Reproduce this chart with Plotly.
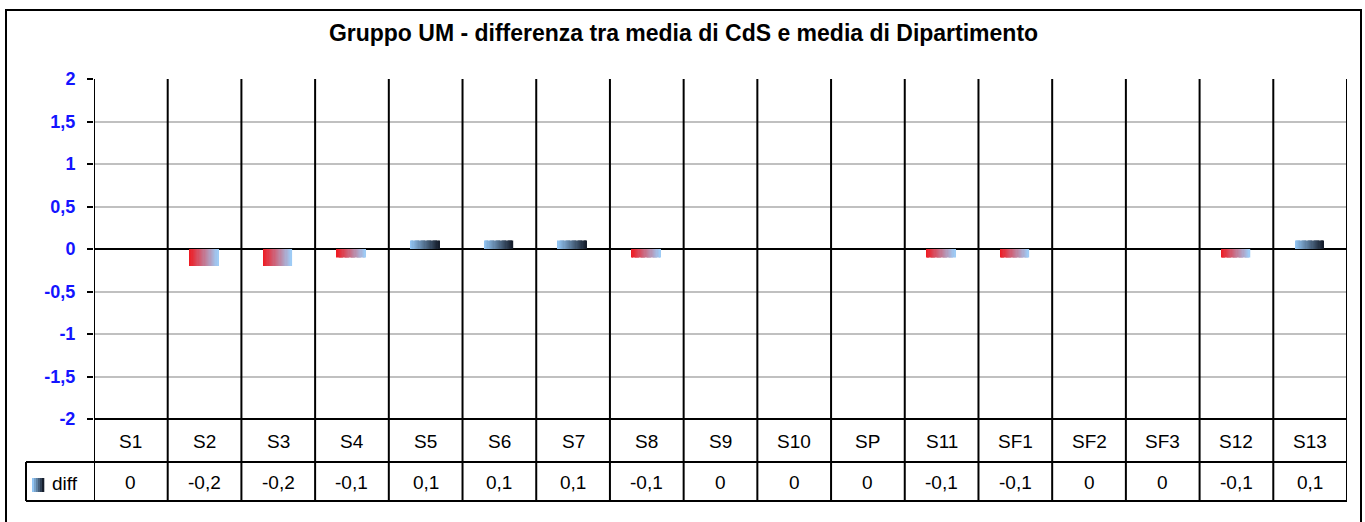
import plotly.graph_objects as go

categories = ["S1", "S2", "S3", "S4", "S5", "S6", "S7", "S8", "S9", "S10",
              "SP", "S11", "SF1", "SF2", "SF3", "S12", "S13"]
diff_values = [0, -0.2, -0.2, -0.1, 0.1, 0.1, 0.1, -0.1, 0, 0,
               0, -0.1, -0.1, 0, 0, -0.1, 0.1]
y_tick_values = [-2, -1.5, -1, -0.5, 0, 0.5, 1, 1.5, 2]
y_tick_labels = ["-2", "-1,5", "-1", "-0,5", "0", "0,5", "1", "1,5", "2"]
series_name = "diff"
title_text = "Gruppo UM - differenza tra media di CdS e media di Dipartimento"

# geometry (pixels)
W, H = 1365, 522
PL, PR, PT, PB = 94, 1347, 79, 419
pw, ph = PR - PL, PB - PT


def px_x(px):
    return (px - PL) / pw


def px_y(py):
    return (PB - py) / ph


def lerp(c1, c2, t):
    return "rgb(%d,%d,%d)" % tuple(round(a + (b - a) * t) for a, b in zip(c1, c2))


NEG_A, NEG_B = (238, 28, 36), (158, 203, 245)
POS_A, POS_B = (146, 196, 242), (22, 30, 44)

fig = go.Figure()

N = 24
bar_w = 0.39
sw = bar_w / N
for i in range(N):
    t = i / (N - 1)
    colors = [lerp(NEG_A, NEG_B, t) if v < 0 else lerp(POS_A, POS_B, t) for v in diff_values]
    fig.add_trace(go.Bar(
        x=categories, y=diff_values,
        width=sw * 1.15, offset=-bar_w / 2 + i * sw - 0.01,
        marker=dict(color=colors, line=dict(width=0)),
        showlegend=False, hoverinfo="skip",
    ))

shapes = []
line_black = dict(color="black", width=2)
y_row1 = px_y(462)
y_row2 = px_y(501)
for k in range(len(categories) + 1):
    shapes.append(dict(type="line", xref="x", yref="paper",
                       x0=k - 0.5, x1=k - 0.5, y0=y_row2, y1=1, line=line_black))
shapes.append(dict(type="line", xref="paper", yref="paper", x0=0, x1=1, y0=0, y1=0, line=line_black))
for yy in (y_row1, y_row2):
    shapes.append(dict(type="line", xref="paper", yref="paper", x0=px_x(26), x1=1,
                       y0=yy, y1=yy, line=line_black))
shapes.append(dict(type="line", xref="paper", yref="paper", x0=px_x(26), x1=px_x(26),
                   y0=y_row2, y1=y_row1, line=line_black))
SN = 6
for i in range(SN):
    x0 = 32 + i * 12 / SN
    shapes.append(dict(type="rect", xref="paper", yref="paper",
                       x0=px_x(x0), x1=px_x(x0 + 12 / SN + 0.3),
                       y0=px_y(492), y1=px_y(478),
                       fillcolor=lerp(POS_A, POS_B, i / (SN - 1)), line=dict(width=0)))
shapes.append(dict(type="rect", xref="paper", yref="paper",
                   x0=px_x(6), x1=px_x(1361), y0=px_y(535), y1=px_y(10),
                   line=dict(color="black", width=2), fillcolor="rgba(0,0,0,0)", layer="below"))

annotations = []
tf = dict(family="Liberation Sans, Arial, sans-serif", size=19, color="black")
for c, v in zip(categories, diff_values):
    annotations.append(dict(x=c, y=px_y(441), xref="x", yref="paper", text=c,
                            showarrow=False, font=tf, xanchor="center", yanchor="middle"))
    txt = "0" if v == 0 else ("%.1f" % v).replace(".", ",")
    annotations.append(dict(x=c, y=px_y(482), xref="x", yref="paper", text=txt,
                            showarrow=False, font=tf, xanchor="center", yanchor="middle"))
annotations.append(dict(x=px_x(50), y=px_y(483), xref="paper", yref="paper", text=series_name,
                        showarrow=False, font=tf, xanchor="left", yanchor="middle"))

fig.update_layout(
    width=W, height=H,
    margin=dict(l=PL, r=W - PR, t=PT, b=H - PB, pad=0),
    paper_bgcolor="white", plot_bgcolor="white",
    barmode="overlay",
    title=dict(text="<b>" + title_text + "</b>", x=(683.5) / W, xanchor="center",
               y=1 - 33 / H, yanchor="middle",
               font=dict(family="Liberation Sans, Arial, sans-serif", size=23, color="black")),
    xaxis=dict(type="category", range=[-0.5, len(categories) - 0.5], showticklabels=False,
               showgrid=False, zeroline=False, ticks="", showline=False, fixedrange=True),
    yaxis=dict(range=[-2, 2], tickvals=y_tick_values, ticktext=y_tick_labels,
               showgrid=True, gridcolor="#c0c0c0", gridwidth=2,
               zeroline=True, zerolinecolor="black", zerolinewidth=2,
               ticks="outside", ticklen=6, tickwidth=2, tickcolor="black",
               ticklabelstandoff=8,
               tickfont=dict(family="Liberation Sans, Arial, sans-serif", size=18, color="#1414ff",
                             weight="bold"),
               showline=False, fixedrange=True),
    shapes=shapes, annotations=annotations, showlegend=False,
)

fig.write_html("out.html", config={"displayModeBar": False},
               post_script="document.body.style.margin='0px';")
